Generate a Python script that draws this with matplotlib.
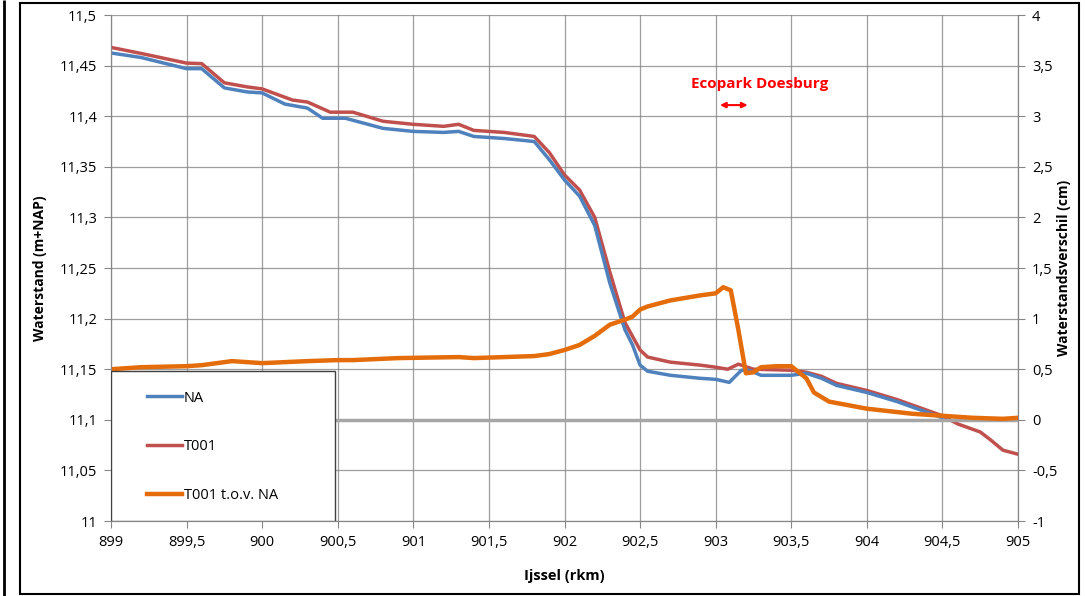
import matplotlib.pyplot as plt
from matplotlib.ticker import FuncFormatter, MultipleLocator
from matplotlib.patches import Rectangle

plt.rcParams['font.family'] = ['Open Sans', 'DejaVu Sans']

# --- data (gelezen uit de grafiek) ---
km_na = [899, 899.2, 899.5, 899.6, 899.75, 899.9, 900, 900.15, 900.3, 900.4, 900.55,
         900.8, 901, 901.2, 901.3, 901.4, 901.6, 901.8, 901.9, 902, 902.1, 902.2,
         902.3, 902.4, 902.45, 902.5, 902.55, 902.7, 902.9, 903.0, 903.09, 903.17,
         903.22, 903.3, 903.5, 903.6, 903.7, 903.8, 904, 904.2, 904.35, 904.5]
na = [11.4625, 11.458, 11.447, 11.447, 11.428, 11.424, 11.423, 11.412, 11.408, 11.398, 11.398,
      11.388, 11.385, 11.384, 11.385, 11.380, 11.378, 11.375, 11.357, 11.337, 11.321, 11.292,
      11.235, 11.189, 11.174, 11.154, 11.148, 11.144, 11.141, 11.140, 11.137, 11.149,
      11.149, 11.144, 11.144, 11.146, 11.141, 11.134, 11.127, 11.118, 11.110, 11.102]

km_t001 = [899, 899.2, 899.5, 899.6, 899.75, 899.9, 900, 900.2, 900.3, 900.45, 900.6,
           900.8, 901, 901.2, 901.3, 901.4, 901.6, 901.8, 901.9, 902, 902.1, 902.2,
           902.3, 902.4, 902.5, 902.55, 902.7, 902.9, 903.0, 903.08, 903.15, 903.25,
           903.5, 903.6, 903.7, 903.8, 904, 904.2, 904.35, 904.5, 904.6, 904.75,
           904.82, 904.9, 905]
t001 = [11.468, 11.462, 11.4525, 11.452, 11.433, 11.429, 11.427, 11.416, 11.414, 11.404, 11.404,
        11.395, 11.392, 11.390, 11.392, 11.386, 11.384, 11.380, 11.364, 11.342, 11.327, 11.300,
        11.246, 11.196, 11.169, 11.162, 11.157, 11.154, 11.152, 11.150, 11.155, 11.150,
        11.149, 11.147, 11.143, 11.136, 11.129, 11.120, 11.112, 11.104, 11.096, 11.088,
        11.080, 11.070, 11.066]

km_verschil = [899, 899.2, 899.5, 899.6, 899.8, 900, 900.3, 900.5, 900.6, 900.9, 901.3,
               901.4, 901.8, 901.9, 902, 902.1, 902.2, 902.3, 902.4, 902.45, 902.5, 902.55,
               902.7, 902.9, 903.0, 903.05, 903.1, 903.15, 903.2, 903.25, 903.3, 903.4,
               903.5, 903.6, 903.65, 903.75, 904, 904.3, 904.5, 904.7, 904.9, 905]
verschil = [0.50, 0.52, 0.53, 0.54, 0.58, 0.56, 0.58, 0.59, 0.59, 0.61, 0.62,
            0.61, 0.63, 0.65, 0.69, 0.74, 0.83, 0.94, 0.99, 1.02, 1.09, 1.12,
            1.18, 1.23, 1.25, 1.31, 1.28, 0.89, 0.46, 0.47, 0.52, 0.53,
            0.53, 0.41, 0.27, 0.18, 0.11, 0.06, 0.04, 0.02, 0.01, 0.02]

nul_km = [899, 905]
nul_lijn = [0, 0]

kleur_na = '#4F81BD'
kleur_t001 = '#C0504D'
kleur_verschil = '#E46C0A'
grijs = '#868686'


def komma(x, pos):
    s = f'{x:.2f}'.rstrip('0').rstrip('.')
    return s.replace('.', ',')


fig = plt.figure(figsize=(10.86, 5.96), dpi=100)
ax = fig.add_axes([0.1022, 0.1258, 0.8352, 0.849])
ax2 = ax.twinx()

ax.plot(km_na, na, color=kleur_na, lw=2.5, solid_joinstyle='round', label='NA', zorder=3)
ax.plot(km_t001, t001, color=kleur_t001, lw=2.5, solid_joinstyle='round', label='T001', zorder=2)
ax2.plot(nul_km, nul_lijn, color='#A6A6A6', lw=2.5, zorder=1)
ax2.plot(km_verschil, verschil, color=kleur_verschil, lw=3.2, solid_joinstyle='round',
         label='T001 t.o.v. NA', zorder=2)

ax.set_xlim(899, 905)
ax.set_ylim(11, 11.5)
ax2.set_ylim(-1, 4)
ax.xaxis.set_major_locator(MultipleLocator(0.5))
ax.yaxis.set_major_locator(MultipleLocator(0.05))
ax2.yaxis.set_major_locator(MultipleLocator(0.5))
for a in (ax, ax2):
    a.xaxis.set_major_formatter(FuncFormatter(komma))
    a.yaxis.set_major_formatter(FuncFormatter(komma))
    a.tick_params(labelsize=10.5, color=grijs, length=5, pad=5)
    for s in a.spines.values():
        s.set_color(grijs)
ax.spines['top'].set_visible(False)
ax2.spines['top'].set_visible(False)
ax.grid(True, color=grijs, lw=0.9, alpha=0.8)
ax.set_axisbelow(True)

ax.set_xlabel('Ijssel (rkm)', fontsize=10.5, fontweight='bold')
ax.set_ylabel('Waterstand (m+NAP)', fontsize=10, fontweight='bold')
ax2.set_ylabel('Waterstandsverschil (cm)', fontsize=10, fontweight='bold')
ax.xaxis.set_label_coords(0.5, -0.095)
ax.yaxis.set_label_coords(-0.07, 0.5)
ax2.yaxis.set_label_coords(1.043, 0.5)

# annotatie Ecopark
ax.text(903.29, 11.432, 'Ecopark Doesburg', color='red', fontsize=11, fontweight='bold',
        ha='center', va='center')
ax.annotate('', xy=(903.01, 11.411), xytext=(903.23, 11.411),
            arrowprops=dict(arrowstyle='<|-|>', color='red', lw=1.5, mutation_scale=8))

# legenda: wit vak met kader, daarin de legenda zonder eigen kader
ax2.add_patch(Rectangle((0, 0), 0.247, 0.2964, transform=ax2.transAxes, facecolor='white',
                        edgecolor='#404040', lw=1, zorder=5))
handles = ax.get_lines()[:2] + [ax2.get_lines()[1]]
leg = ax2.legend(handles, ['NA', 'T001', 'T001 t.o.v. NA'], loc='center left',
                 bbox_to_anchor=(0.033, 0.147), borderaxespad=0, frameon=False, fontsize=10.5,
                 labelspacing=2.3, handlelength=2.4, handletextpad=0.15)
leg.set_zorder(6)

# kader rond de figuur
fig.patches.append(Rectangle((0.018, 0.003), 0.976, 0.992, transform=fig.transFigure,
                             fill=False, edgecolor='black', lw=1.5))
fig.patches.append(Rectangle((0.0035, 0.0), 0.0, 1.0, transform=fig.transFigure,
                             fill=False, edgecolor='black', lw=2))

fig.savefig('out.png', dpi=100)
